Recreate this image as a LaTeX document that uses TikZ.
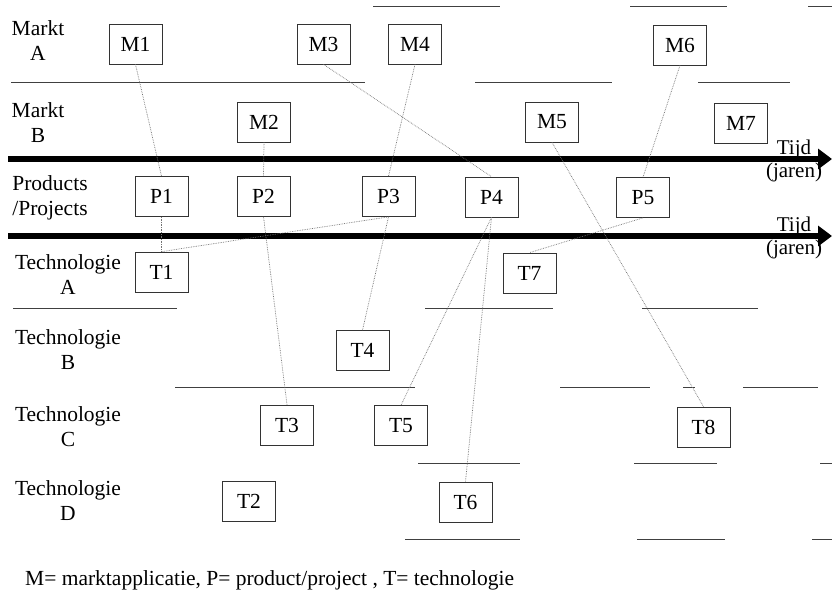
\documentclass[tikz,border=0pt]{standalone}
\usepackage{fontspec}
\setmainfont{Liberation Serif}
\usetikzlibrary{arrows.meta}
\begin{document}
\begin{tikzpicture}[x=1pt,y=-1pt,
  box/.style={draw=black!80, line width=0.7pt, minimum width=53pt, minimum height=40pt, inner sep=0pt, font=\fontsize{21.5}{24}\selectfont},
  link/.style={draw=black!55, line width=0.7pt, densely dotted},
  sep/.style={draw=black!75, line width=0.8pt},
  lane/.style={align=center, inner sep=0pt, font=\fontsize{21.5}{25}\selectfont},
  timelbl/.style={align=center, inner sep=0pt, font=\fontsize{21}{23}\selectfont},
  timeline/.style={line width=5.5pt, -{Triangle[length=14pt,width=20pt]}}
]
\fill[white] (0,0) rectangle (832,594);
\useasboundingbox (0,0) rectangle (832,594);

% lane separators (broken lines as in the scan)
\draw[sep] (373,6) -- (500,6) (630,6) -- (727,6) (808,6) -- (832,6);
\draw[sep] (11,82) -- (365,82) (475,82) -- (612,82) (698,82) -- (790,82);
\draw[sep] (13,308) -- (177,308) (425,308) -- (553,308) (642,308) -- (758,308);
\draw[sep] (175,387) -- (415,387) (560,387) -- (650,387) (683,387) -- (695,387) (743,387) -- (818,387);
\draw[sep] (418,463) -- (520,463) (634,463) -- (717,463) (820,463) -- (832,463);
\draw[sep] (405,539) -- (520,539) (637,539) -- (725,539) (812,539) -- (832,539);

% time axes
\coordinate (ax1s) at (8,159);
\coordinate (ax1e) at (832,159);
\coordinate (ax2s) at (8,236);
\coordinate (ax2e) at (832,236);
\draw[timeline] (ax1s) -- (ax1e);
\draw[timeline] (ax2s) -- (ax2e);
\node[timelbl] (tijd1) at (794,161.2) {Tijd\\(jaren)};
\node[timelbl] (tijd2) at (794,238.2) {Tijd\\(jaren)};

% lane labels
\node[lane] (lMA) at (38,40.5) {Markt\\A};
\node[lane] (lMB) at (38,122.5) {Markt\\B};
\node[lane] (lPP) at (50,198) {Products\\/Projects};
\node[lane] (lTA) at (68,274.5) {Technologie\\A};
\node[lane] (lTB) at (68,350) {Technologie\\B};
\node[lane] (lTC) at (68,426.5) {Technologie\\C};
\node[lane] (lTD) at (68,500.5) {Technologie\\D};

% boxes
\node[box] (M1) at (135.5,44) {M1};
\node[box] (M3) at (323.5,44) {M3};
\node[box] (M4) at (415,44) {M4};
\node[box] (M6) at (680,45) {M6};
\node[box] (M2) at (264,122) {M2};
\node[box] (M5) at (552,122) {M5};
\node[box] (M7) at (741,123) {M7};
\node[box] (P1) at (161.5,196.5) {P1};
\node[box] (P2) at (263.5,196.5) {P2};
\node[box] (P3) at (388.5,196.5) {P3};
\node[box] (P4) at (491.5,197) {P4};
\node[box] (P5) at (643,197.5) {P5};
\node[box] (T1) at (161.5,272) {T1};
\node[box] (T7) at (529.5,273) {T7};
\node[box] (T4) at (362.5,350.5) {T4};
\node[box] (T3) at (287,425) {T3};
\node[box] (T5) at (401,425.5) {T5};
\node[box] (T8) at (703.5,427) {T8};
\node[box] (T2) at (249,501.5) {T2};
\node[box] (T6) at (465.5,502) {T6};

% connectors
\draw[link] (M1.south) -- (P1.north);
\draw[link] (M2.south) -- (P2.north);
\draw[link] (M3.south) -- (P4.north);
\draw[link] (M4.south) -- (P3.north);
\draw[link] (M6.south) -- (P5.north);
\draw[link] (M5.south) -- (T8.north);
\draw[link] (P1.south) -- (T1.north);
\draw[link] (P3.south) -- (T1.north);
\draw[link] (P3.south) -- (T4.north);
\draw[link] (P2.south) -- (T3.north);
\draw[link] (P4.south) -- (T5.north);
\draw[link] (P4.south) -- (T6.north);
\draw[link] (P5.south) -- (T7.north);

% caption
\node[anchor=base west, inner sep=0pt, font=\fontsize{21.5}{24}\selectfont] (cap) at (25,585) {M= marktapplicatie, P= product/project , T= technologie};
\end{tikzpicture}
\end{document}
